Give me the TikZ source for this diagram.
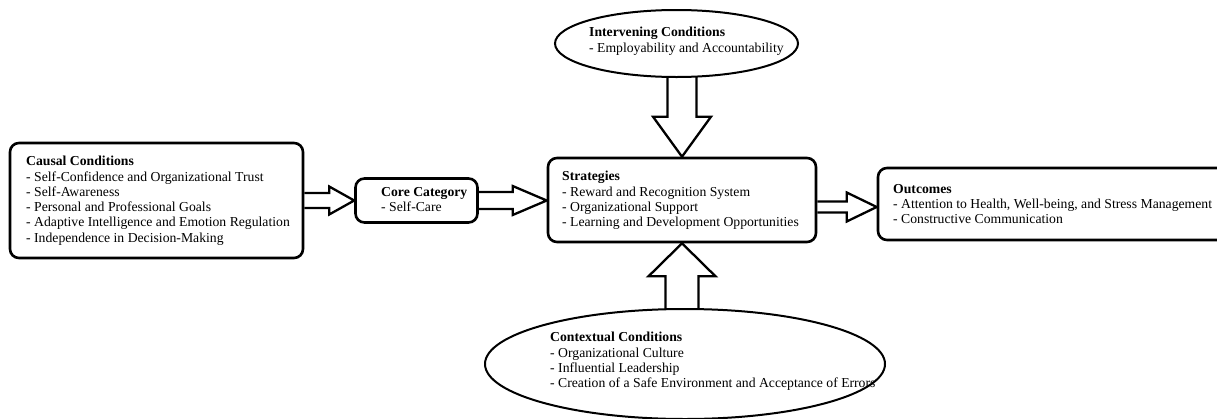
\documentclass[tikz,border=0pt]{standalone}
\usepackage{fontspec}
\setmainfont{Liberation Serif}
\usetikzlibrary{calc,backgrounds,shapes.geometric}
\begin{document}
\begin{tikzpicture}[x=1pt,y=-1pt,
  box/.style={draw,line width=2.6pt,rounded corners=9pt,fill=white,inner sep=0},
  oval/.style={draw,ellipse,line width=2pt,fill=white,inner sep=0},
  blk/.style={draw,line width=2.3pt,fill=white,line join=miter},
  txt/.style={anchor=north west,align=left,inner sep=0,font=\fontsize{13.7}{15.3}\selectfont}]
\useasboundingbox (0,0) rectangle (1217,418);
\clip (0,0) rectangle (1217,418);
% boxes
\node[box,minimum width=293pt,minimum height=115pt] (causal) at (156.5,200.5) {};
\node[box,minimum width=122pt,minimum height=44pt] (core) at (416.5,200.5) {};
\node[box,minimum width=268pt,minimum height=84pt] (strat) at (682,200) {};
\node[box,minimum width=357pt,minimum height=72pt] (outc) at (1056.5,204) {};
\node[oval,minimum width=243pt,minimum height=67pt] (interv) at (676.5,43.5) {};
\node[oval,minimum width=400pt,minimum height=110pt] (context) at (685,364) {};
% texts
\node[txt] (causaltxt) at (26,156) {\textbf{Causal Conditions}\\- Self-Confidence and Organizational Trust\\- Self-Awareness\\- Personal and Professional Goals\\- Adaptive Intelligence and Emotion Regulation\\- Independence in Decision-Making};
\node[txt] (coretxt) at (381,187) {\textbf{Core Category}\\- Self-Care};
\node[txt] (strattxt) at (562,171) {\textbf{Strategies}\\- Reward and Recognition System\\- Organizational Support\\- Learning and Development Opportunities};
\node[txt] (outctxt) at (893,184) {\textbf{Outcomes}\\- Attention to Health, Well-being, and Stress Management\\- Constructive Communication};
\node[txt] (intervtxt) at (589,27) {\textbf{Intervening Conditions}\\- Employability and Accountability};
\node[txt] (contexttxt) at (550,332) {\textbf{Contextual Conditions}\\- Organizational Culture\\- Influential Leadership\\- Creation of a Safe Environment and Acceptance of Errors};
% block arrows
\begin{pgfonlayer}{background}
\draw[blk] let \p1=(causal.east), \p2=(core.west) in
  (\x1,\y1+7.5pt) -- (\x2-25pt,\y1+7.5pt) -- (\x2-25pt,\y1+14pt) -- (\x2,\y1)
  -- (\x2-25pt,\y1-14pt) -- (\x2-25pt,\y1-7.5pt) -- (\x1,\y1-7.5pt);
\draw[blk] let \p1=(core.east), \p2=(strat.west) in
  (\x1,\y1+8.5pt) -- (\x2-34pt,\y1+8.5pt) -- (\x2-34pt,\y1+14.5pt) -- (\x2,\y1)
  -- (\x2-34pt,\y1-14.5pt) -- (\x2-34pt,\y1-8.5pt) -- (\x1,\y1-8.5pt);
\draw[blk] let \p1=(strat.east), \p2=($(outc.west)+(0,3)$) in
  (\x1,\y2+5.5pt) -- (\x2-30pt,\y2+5.5pt) -- (\x2-30pt,\y2+14.5pt) -- (\x2,\y2)
  -- (\x2-30pt,\y2-14.5pt) -- (\x2-30pt,\y2-5.5pt) -- (\x1,\y2-5.5pt);
\draw[blk] let \p1=(strat.north), \p2=(interv.center) in
  (\x1-14.5pt,\y2) -- (\x1-14.5pt,\y1+40pt) -- (\x1-29pt,\y1+40pt) -- (\x1,\y1)
  -- (\x1+29pt,\y1+40pt) -- (\x1+14.5pt,\y1+40pt) -- (\x1+14.5pt,\y2);
\draw[blk] let \p1=(strat.south), \p2=(context.center) in
  (\x1-16.5pt,\y2) -- (\x1-16.5pt,\y1-33pt) -- (\x1-33.5pt,\y1-33pt) -- (\x1,\y1)
  -- (\x1+33.5pt,\y1-33pt) -- (\x1+16.5pt,\y1-33pt) -- (\x1+16.5pt,\y2);
\end{pgfonlayer}
\end{tikzpicture}
\end{document}
